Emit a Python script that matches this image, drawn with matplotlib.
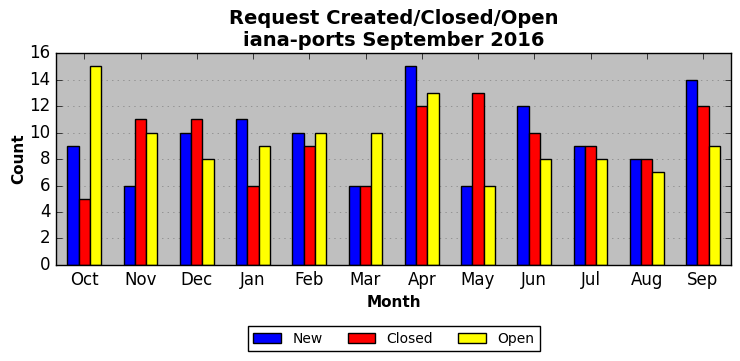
import matplotlib
matplotlib.use("Agg")
import matplotlib.pyplot as plt
import numpy as np

plt.style.use("classic")

months = ["Oct", "Nov", "Dec", "Jan", "Feb", "Mar", "Apr", "May", "Jun", "Jul", "Aug", "Sep"]
new = [9, 6, 10, 11, 10, 6, 15, 6, 12, 9, 8, 14]
closed = [5, 11, 11, 6, 9, 6, 12, 13, 10, 9, 8, 12]
open_ = [15, 10, 8, 9, 10, 10, 13, 6, 8, 8, 7, 9]

fig, ax = plt.subplots(figsize=(7.4, 3.61), dpi=100)
fig.patch.set_facecolor("white")
ax.set_facecolor("#bfbfbf")

x = np.arange(len(months))
w = 0.2
ax.bar(x - w, new, w, color="blue", edgecolor="black", label="New", align="center")
ax.bar(x, closed, w, color="red", edgecolor="black", label="Closed", align="center")
ax.bar(x + w, open_, w, color="yellow", edgecolor="black", label="Open", align="center")

ax.set_xlim(-0.5, len(months) - 0.5)
ax.set_ylim(0, 16)
ax.set_yticks(range(0, 17, 2))
ax.set_xticks(x)
ax.set_xticklabels(months, fontsize=12)
ax.tick_params(axis="y", labelsize=12)
ax.yaxis.grid(True, linestyle=":", color="#808080")
ax.set_axisbelow(True)

ax.set_xlabel("Month", fontsize=11, fontweight="bold")
ax.set_ylabel("Count", fontsize=11, fontweight="bold", labelpad=2)
ax.set_title("Request Created/Closed/Open\niana-ports September 2016", fontsize=14, fontweight="bold")

ax.legend(loc="upper center", bbox_to_anchor=(0.5, -0.255), ncol=3, fontsize=10,
          frameon=True, columnspacing=1.8, handlelength=2.0)

fig.subplots_adjust(left=0.076, right=0.988, top=0.853, bottom=0.266)
fig.savefig("out.png", dpi=100)
